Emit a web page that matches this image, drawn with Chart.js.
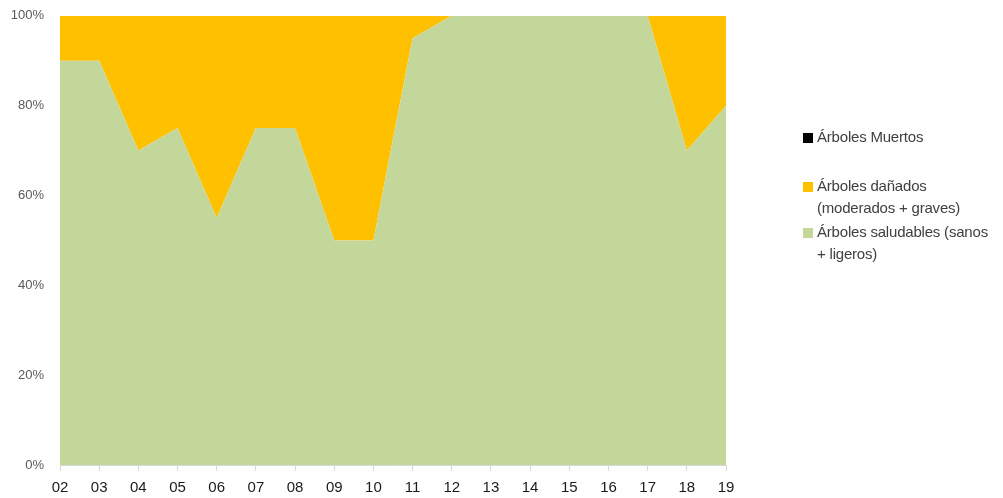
<!DOCTYPE html>
<html>
<head>
<meta charset="utf-8">
<script src="https://cdn.jsdelivr.net/npm/chart.js@4"></script>
<style>
  body { margin: 0; background: #fff; }
  #wrap { position: relative; width: 1003px; height: 498px; }
  #legend { position: absolute; left: 803px; top: 126px; font-family: "Liberation Sans", Arial, sans-serif; font-size: 15px; color: #404040; line-height: 22px; letter-spacing: -0.2px; }
  .item { position: relative; padding-left: 14px; }
  .box { position: absolute; left: 0; top: 7px; width: 10px; height: 10px; }
</style>
</head>
<body>
<div id="wrap">
  <canvas id="myChart" width="1003" height="498"></canvas>
  <div id="legend">
    <div class="item"><span class="box" style="background:#000000"></span>Árboles Muertos</div>
    <div class="item" style="margin-top:27px"><span class="box" style="background:#ffc000"></span>Árboles dañados<br>(moderados + graves)</div>
    <div class="item" style="margin-top:2px"><span class="box" style="background:#c4d79b"></span>Árboles saludables (sanos<br>+ ligeros)</div>
  </div>
</div>
<script>
var years = ["02", "03", "04", "05", "06", "07", "08", "09", "10", "11", "12", "13", "14", "15", "16", "17", "18", "19"];
var saludables = [90, 90, 70, 75, 55, 75, 75, 50, 50, 95, 100, 100, 100, 100, 100, 100, 70, 80];
var danados = [10, 10, 30, 25, 45, 25, 25, 50, 50, 5, 0, 0, 0, 0, 0, 0, 30, 20];
var muertos = [0, 0, 0, 0, 0, 0, 0, 0, 0, 0, 0, 0, 0, 0, 0, 0, 0, 0];

const ctx = document.getElementById("myChart");
new Chart(ctx, {
  type: "line",
  data: {
    labels: years,
    datasets: [
      {
        label: "Árboles saludables (sanos + ligeros)",
        data: saludables,
        backgroundColor: "#c4d79b",
        borderWidth: 0,
        pointRadius: 0,
        tension: 0,
        fill: "origin",
      },
      {
        label: "Árboles dañados (moderados + graves)",
        data: danados,
        backgroundColor: "#ffc000",
        borderWidth: 0,
        pointRadius: 0,
        tension: 0,
        fill: "-1",
      },
      {
        label: "Árboles Muertos",
        data: muertos,
        backgroundColor: "#000000",
        borderWidth: 0,
        pointRadius: 0,
        tension: 0,
        fill: "-1",
      },
    ],
  },
  options: {
    responsive: false,
    animation: false,
    layout: { padding: { left: 0, right: 277, top: 11, bottom: 0 } },
    plugins: {
      legend: { display: false },
      tooltip: { enabled: false },
    },
    scales: {
      x: {
        offset: false,
        grid: {
          display: true,
          drawOnChartArea: false,
          drawTicks: true,
          tickLength: 6,
          color: "#d9d9d9",
        },
        border: { display: true, color: "#d9d9d9" },
        ticks: {
          color: "#1a1a1a",
          font: { family: "Liberation Sans", size: 15 },
          padding: 8,
          maxRotation: 0,
          autoSkip: false,
        },
        afterFit: function (scale) {
          scale.height = 33;
        },
      },
      y: {
        stacked: true,
        min: 0,
        max: 100,
        grid: { display: false },
        border: { display: false },
        ticks: {
          stepSize: 20,
          color: "#595959",
          font: { family: "Liberation Sans", size: 13 },
          padding: 8,
          callback: function (value) {
            return value + "%";
          },
        },
        afterFit: function (scale) {
          scale.width = 60;
        },
      },
    },
  },
});
</script>
</body>
</html>
